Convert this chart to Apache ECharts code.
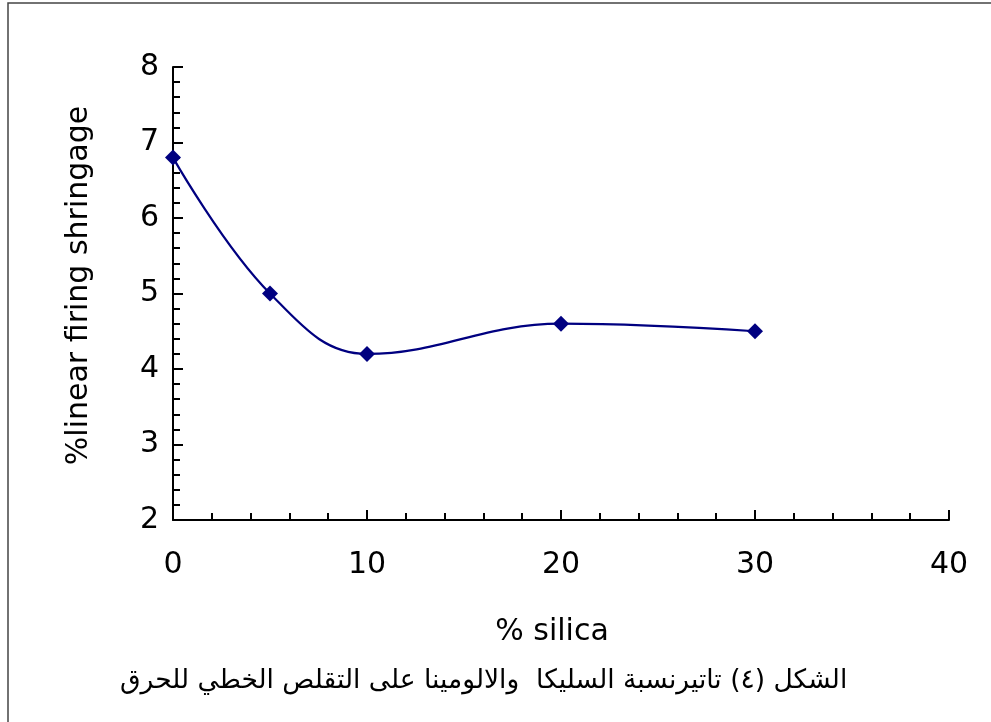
<!DOCTYPE html>
<html>
<head>
<meta charset="utf-8">
<script src="https://cdn.jsdelivr.net/npm/echarts@6/dist/echarts.min.js"></script>
<style>
  html, body { margin: 0; padding: 0; background: #fff; }
  #chart { width: 991px; height: 722px; }
</style>
</head>
<body>
<div id="chart"></div>
<script>
// data
const silica = [0, 5, 10, 20, 30];
const shrinkage = [6.8, 5.0, 4.2, 4.6, 4.5];
const xName = '% silica';
const yName = '%linear firing shringage';
const caption = 'الشكل (٤) تاتيرنسبة السليكا  والالومينا على التقلص الخطي للحرق';

const chart = echarts.init(document.getElementById('chart'));
const font = '"DejaVu Sans", sans-serif';

const option = {
  backgroundColor: '#fff',
  animation: false,
  graphic: [
    {
      type: 'rect',
      shape: { x: 8, y: 3, width: 1100, height: 900 },
      style: { fill: 'none', stroke: '#444', lineWidth: 1.5 },
      silent: true
    },
    {
      type: 'text',
      left: 120,
      top: 668,
      style: {
        text: caption,
        font: '26.5px ' + font,
        fill: '#000'
      }
    }
  ],
  grid: { left: 173, right: 42, top: 67, bottom: 202 },
  xAxis: {
    type: 'value',
    min: 0,
    max: 40,
    interval: 10,
    name: xName,
    nameLocation: 'middle',
    nameGap: 97,
    nameTextStyle: { fontSize: 30, fontFamily: font, color: '#000', padding: [0, 18, 0, 0] },
    axisLine: { lineStyle: { color: '#000', width: 2 } },
    axisTick: { inside: true, length: 10, lineStyle: { color: '#000', width: 2 } },
    minorTick: { show: true, splitNumber: 5, length: 7, lineStyle: { color: '#000', width: 2 } },
    axisLabel: { fontSize: 30, fontFamily: font, color: '#000', margin: 30 },
    splitLine: { show: false },
    minorSplitLine: { show: false }
  },
  yAxis: {
    type: 'value',
    min: 2,
    max: 8,
    interval: 1,
    name: yName,
    nameLocation: 'middle',
    nameGap: 79,
    nameTextStyle: { fontSize: 30, fontFamily: font, color: '#000', padding: [0, 0, 0, 16] },
    axisLine: { show: true, lineStyle: { color: '#000', width: 2 } },
    axisTick: { show: true, inside: true, length: 10, lineStyle: { color: '#000', width: 2 } },
    minorTick: { show: true, splitNumber: 5, length: 7, lineStyle: { color: '#000', width: 2 } },
    axisLabel: { fontSize: 30, fontFamily: font, color: '#000', margin: 14 },
    splitLine: { show: false },
    minorSplitLine: { show: false }
  },
  series: [
    {
      type: 'line',
      data: silica.map((x, i) => [x, shrinkage[i]]),
      smooth: 0.4,
      symbol: 'diamond',
      symbolSize: 16,
      itemStyle: { color: '#000080' },
      lineStyle: { color: '#000080', width: 2.2 }
    }
  ]
};

chart.setOption(option);
</script>
</body>
</html>
